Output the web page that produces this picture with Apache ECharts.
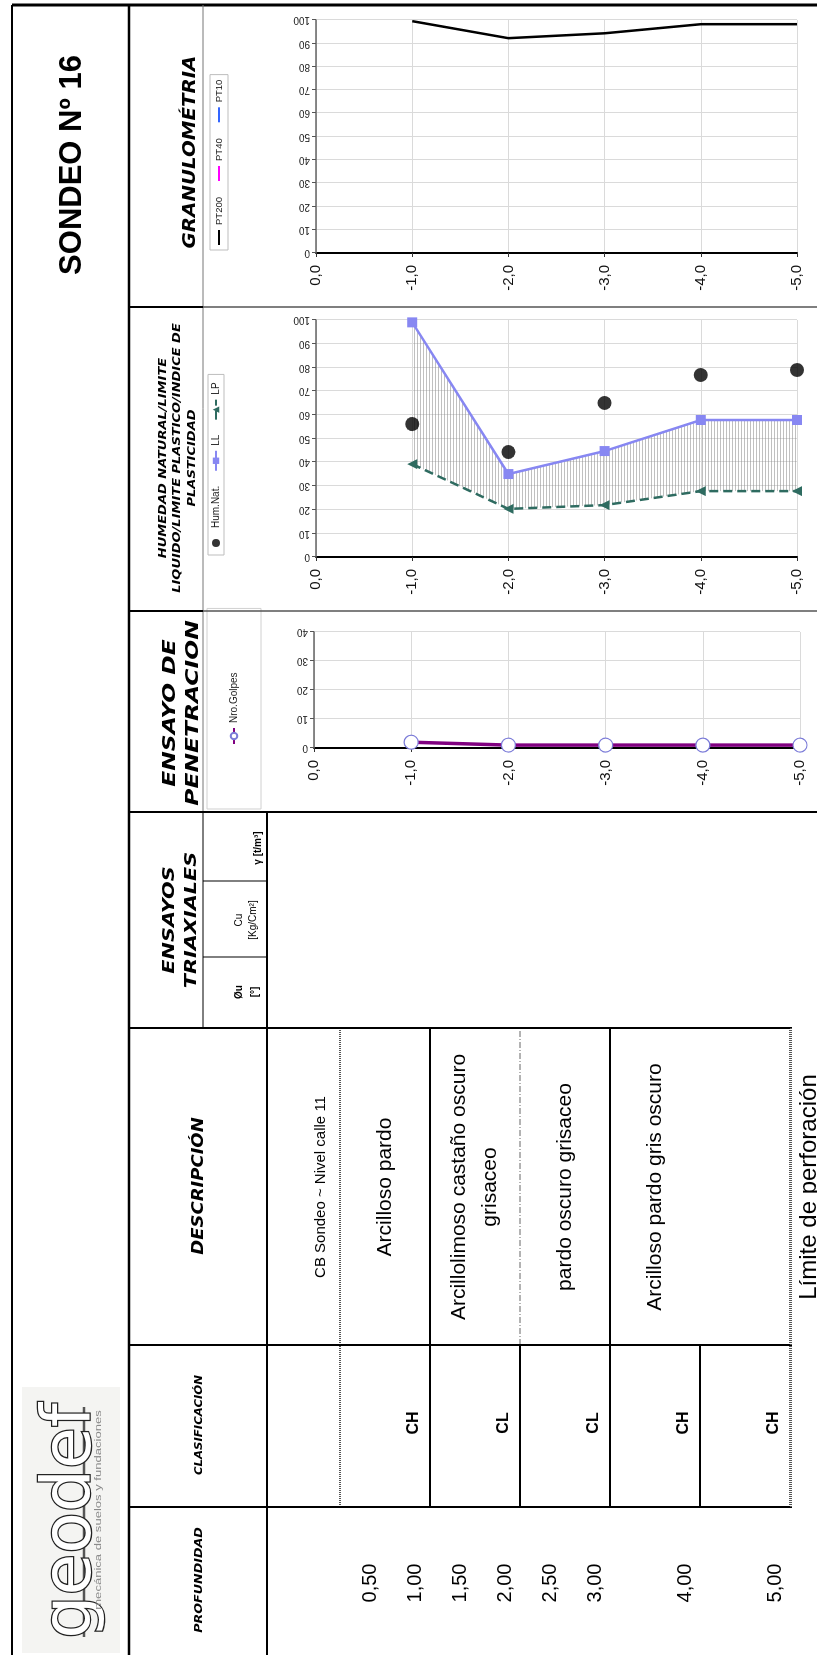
<!DOCTYPE html>
<html lang="es">
<head>
<meta charset="utf-8">
<title>Sondeo Nº 16</title>
<script src="https://cdn.jsdelivr.net/npm/echarts@6/dist/echarts.min.js"></script>
<style>
  html, body { margin: 0; padding: 0; width: 817px; height: 1655px; overflow: hidden; background: #fff; }
  /* La planilla se dibuja apaisada (1655 x 817) y se gira 90° a la izquierda */
  #hoja { position: absolute; left: 0; top: 0; width: 1655px; height: 817px;
          transform-origin: 0 0; transform: translate(0, 1655px) rotate(-90deg); }
</style>
</head>
<body>
<div id="hoja"></div>
<script>
// ---------- Datos del sondeo ----------
// Profundidades de ensayo (m)
const profundidadEnsayos = ['0,0', '-1,0', '-2,0', '-3,0', '-4,0', '-5,0'];
// Granulometría: pasante por tamiz (%)
const pasaT200 = [null, 99.5, 92.2, 94.3, 98.2, 98.2];
const pasaT40 = [];
const pasaT10 = [];
// Humedad natural y límites de Atterberg (%)
const humedadNatural = [null, 56.1, 44.3, 65.0, 76.8, 78.9];
const limiteLiquido = [null, 99.0, 35.0, 44.7, 57.8, 57.8];
const limitePlastico = [null, 39.2, 20.3, 21.9, 27.8, 27.8];
// Ensayo de penetración: número de golpes
const nroGolpes = [null, 2, 1, 1, 1, 1];
// Escalas de los ejes de valores
const escalaPorcentaje = [0, 100, 10];
const escalaGolpes = [0, 40, 10];

// Perfil estratigráfico
const estratoDesde = [-0.8, 0, 1, 2, 3];
const estratoHasta = [0, 1, 2, 3, 4];
const estratoDescripcion = [
  'CB Sondeo ~ Nivel calle 11',
  'Arcilloso pardo',
  'Arcillolimoso castaño oscuro\ngrisaceo',
  'pardo oscuro grisaceo',
  'Arcilloso pardo gris oscuro'
];
const contactoDescripcion = [0, 1, 2, 3, 5];
const tipoContactoDescripcion = ['punteado', 'neto', 'gradual', 'neto', 'punteado'];
const clasificacionHasta = [1, 2, 3, 4, 5];
const clasificacionSUCS = ['CH', 'CL', 'CL', 'CH', 'CH'];
const contactoClasificacion = [0, 1, 2, 3, 4, 5];
const tipoContactoClasificacion = ['punteado', 'neto', 'neto', 'neto', 'neto', 'punteado'];
const profundidadMuestras = [0.5, 1, 1.5, 2, 2.5, 3, 4, 5];
const profundidadFinal = 5;

// ---------- Utilidades ----------
const SANS = '"Liberation Sans", Arial, sans-serif';
const TITULAR = '"DejaVu Sans", Verdana, sans-serif';
const pares = arr => arr.map((v, i) => (v == null ? null : [v, i])).filter(Boolean);
const indicePlasticidad = limiteLiquido.map((v, i) => (v == null ? null : v - limitePlastico[i]));

// trama de líneas finas para el índice de plasticidad
const trama = document.createElement('canvas');
trama.width = 8; trama.height = 3;
const tctx = trama.getContext('2d');
tctx.fillStyle = 'rgba(140,140,140,0.55)';
tctx.fillRect(0, 0, 8, 1);

function linea(x1, y1, x2, y2, color, ancho, dash) {
  return { type: 'line', silent: true, z: 10,
    shape: { x1, y1, x2, y2 },
    style: { stroke: color, lineWidth: ancho, lineDash: dash || null } };
}
function texto(x, y, str, font, extra) {
  extra = extra || {};
  return { type: 'text', silent: true, z: 10, x, y,
    scaleX: extra.scaleX || 1,
    style: { text: str, font, fill: extra.color || '#000',
      textAlign: extra.align || 'center', textVerticalAlign: extra.vAlign || 'middle',
      align: extra.align || 'center', verticalAlign: extra.vAlign || 'middle',
      lineHeight: extra.lineHeight, stroke: extra.stroke, lineWidth: extra.lineWidth } };
}
const estiloContacto = {
  punteado: { stroke: '#555', lineWidth: 2, lineDash: [1, 1] },
  neto: { stroke: '#000', lineWidth: 2, lineDash: null },
  gradual: { stroke: '#666', lineWidth: 1, lineDash: [6, 2, 1, 2] }
};

// ---------- Ejes de los gráficos ----------
function ejeValores(grid, escala) {
  return {
    gridIndex: grid, type: 'value', position: 'top',
    min: escala[0], max: escala[1], interval: escala[2],
    axisLine: { show: true, onZero: false, lineStyle: { color: '#666', width: 1.5 } },
    axisTick: { show: true, length: 4, lineStyle: { color: '#555' } },
    axisLabel: { rotate: -90, fontSize: 10, margin: 6, color: '#222', fontFamily: SANS },
    splitLine: { show: true, lineStyle: { color: '#dadada', width: 1 } }
  };
}
function ejeProfundidad(grid) {
  return {
    gridIndex: grid, type: 'category', data: profundidadEnsayos, inverse: true, boundaryGap: false,
    axisLine: { show: true, lineStyle: { color: '#000', width: 2 } },
    axisTick: { show: true, length: 4, lineStyle: { color: '#333' } },
    axisLabel: { fontSize: 15, margin: 12, color: '#111', fontFamily: SANS, interval: 0 },
    splitLine: { show: true, interval: 0, lineStyle: { color: '#dadada', width: 1 } }
  };
}

// ---------- Marco, encabezados y logo ----------
const graficos = [
  // fondo del logo
  { type: 'rect', silent: true, z: 1, shape: { x: 2, y: 22, width: 266, height: 98 }, style: { fill: '#f4f4f2' } },
  // marco general
  linea(1650, 12, 1650, 817, '#000', 3),
  linea(0, 12, 1650, 12, '#000', 2),
  linea(0, 129, 1650, 129, '#000', 2.5),
  linea(627, 203, 843, 203, '#000', 1),
  linea(843, 203, 1650, 203, '#777', 1),
  linea(0, 267, 843, 267, '#000', 2),
  // divisiones de las secciones
  linea(1348, 129, 1348, 203, '#000', 2), linea(1348, 203, 1348, 817, '#555', 1.5),
  linea(1044, 129, 1044, 203, '#000', 2), linea(1044, 203, 1044, 817, '#555', 1.5),
  linea(843, 129, 843, 817, '#000', 2),
  linea(627, 129, 627, 792, '#000', 2),
  linea(310, 129, 310, 792, '#000', 2),
  linea(148, 129, 148, 792, '#000', 2),
  linea(774, 203, 774, 267, '#000', 1),
  linea(698, 203, 698, 267, '#000', 1),
  linea(148, 791, 627, 791, '#555', 2, [1, 1]),
  // título
  texto(1490, 72, 'SONDEO Nº 16', 'bold 31px ' + SANS),
  // encabezados de columnas
  texto(1503, 190, 'GRANULOMÉTRIA', 'italic bold 18px ' + TITULAR, { scaleX: 1.1 }),
  texto(1197, 163, 'HUMEDAD NATURAL/LIMITE', 'italic bold 10px ' + TITULAR, { scaleX: 1.3 }),
  texto(1197, 177, 'LIQUIDO/LIMITE PLASTICO/INDICE DE', 'italic bold 10px ' + TITULAR, { scaleX: 1.3 }),
  texto(1197, 192, 'PLASTICIDAD', 'italic bold 10px ' + TITULAR, { scaleX: 1.3 }),
  texto(942, 170, 'ENSAYO DE', 'italic bold 18px ' + TITULAR, { scaleX: 1.3 }),
  texto(942, 193, 'PENETRACION', 'italic bold 18px ' + TITULAR, { scaleX: 1.3 }),
  texto(735, 170, 'ENSAYOS', 'italic bold 16px ' + TITULAR, { scaleX: 1.3 }),
  texto(735, 192, 'TRIAXIALES', 'italic bold 16px ' + TITULAR, { scaleX: 1.3 }),
  texto(663, 239, 'Øu', 'bold 10px ' + SANS),
  texto(663, 255, '[°]', 'bold 10px ' + SANS),
  texto(735, 239, 'Cu', '10px ' + SANS),
  texto(735, 253, '[Kg/Cm²]', '10px ' + SANS),
  texto(807, 258, 'γ [t/m³]', 'bold 10px ' + SANS),
  texto(469, 199, 'DESCRIPCIÓN', 'italic bold 15px ' + TITULAR, { scaleX: 1.2 }),
  texto(230, 199, 'CLASIFICACIÓN', 'italic bold 10px ' + TITULAR, { scaleX: 1.17 }),
  texto(75, 199, 'PROFUNDIDAD', 'italic bold 10px ' + TITULAR, { scaleX: 1.27 }),
  // logo
  linea(18, 84, 248, 84, '#555', 2.5),
  texto(134, 72, 'geodef', '68px ' + TITULAR, { color: '#fff', stroke: '#222', lineWidth: 2.5 }),
  texto(145, 99, 'mecánica de suelos y fundaciones', '9px ' + SANS, { color: '#8a8a8a', scaleX: 1.45 })
];

// ---------- Gráfico ----------
const chart = echarts.init(document.getElementById('hoja'), null, { renderer: 'canvas', width: 1655, height: 817 });

const option = {
  animation: false,
  backgroundColor: '#fff',
  textStyle: { fontFamily: SANS },
  grid: [
    { left: 1402, top: 316, width: 233, height: 481, outerBoundsMode: 'none' },
    { left: 1098, top: 316, width: 237, height: 481, outerBoundsMode: 'none' },
    { left: 907, top: 314, width: 116, height: 486, outerBoundsMode: 'none' },
    { left: 0, top: 268, width: 1655, height: 522, outerBoundsMode: 'none' }
  ],
  xAxis: [
    ejeValores(0, escalaPorcentaje),
    ejeValores(1, escalaPorcentaje),
    ejeValores(2, escalaGolpes),
    { gridIndex: 3, type: 'value', min: 0, max: 1655, show: false }
  ],
  yAxis: [
    ejeProfundidad(0),
    ejeProfundidad(1),
    ejeProfundidad(2),
    { gridIndex: 3, type: 'value', inverse: true, min: -0.8, max: 5, show: false }
  ],
  legend: [
    { data: [{ name: 'PT200', icon: 'rect' }, { name: 'PT40', icon: 'rect' }, { name: 'PT10', icon: 'rect' }],
      left: 1405, top: 210, orient: 'horizontal',
      itemWidth: 15, itemHeight: 2, itemGap: 16, padding: [4, 5], selectedMode: false,
      borderColor: '#bdbdbd', borderWidth: 1, textStyle: { fontSize: 9.5, color: '#222', fontFamily: SANS } },
    { data: ['Hum.Nat.', 'LL', 'LP'], left: 1100, top: 208, orient: 'horizontal',
      itemWidth: 20, itemHeight: 8, itemGap: 14, padding: [3, 8], selectedMode: false,
      borderColor: '#bdbdbd', borderWidth: 1, textStyle: { fontSize: 10, color: '#222', fontFamily: SANS } },
    { data: ['Nro.Golpes'], left: 846, top: 207, orient: 'horizontal',
      itemWidth: 16, itemHeight: 8, padding: [22, 64], selectedMode: false,
      borderColor: '#d0d0d0', borderWidth: 1, textStyle: { fontSize: 10, color: '#222', fontFamily: SANS } }
  ],
  graphic: graficos,
  series: [
    // Granulometría
    { name: 'PT200', type: 'line', xAxisIndex: 0, yAxisIndex: 0, data: pares(pasaT200),
      symbol: 'none', color: '#000', lineStyle: { color: '#000', width: 2.5 }, z: 3 },
    { name: 'PT40', type: 'line', xAxisIndex: 0, yAxisIndex: 0, data: pares(pasaT40),
      symbol: 'none', color: '#ff00ff', lineStyle: { color: '#ff00ff', width: 2 } },
    { name: 'PT10', type: 'line', xAxisIndex: 0, yAxisIndex: 0, data: pares(pasaT10),
      symbol: 'none', color: '#3366ff', lineStyle: { color: '#3366ff', width: 2 } },
    // Límites de Atterberg
    { name: 'LP', type: 'line', xAxisIndex: 1, yAxisIndex: 1, data: pares(limitePlastico), stack: 'ip',
      symbol: 'triangle', symbolSize: 10, color: '#2e6b60',
      itemStyle: { color: '#2e6b60' }, lineStyle: { color: '#2e6b60', width: 2.5, type: [9, 5] }, z: 4 },
    { name: 'IP', type: 'line', xAxisIndex: 1, yAxisIndex: 1, data: pares(indicePlasticidad), stack: 'ip',
      symbol: 'none', lineStyle: { width: 0, opacity: 0 },
      areaStyle: { color: { image: trama, repeat: 'repeat' }, opacity: 1 }, z: 2 },
    { name: 'LL', type: 'line', xAxisIndex: 1, yAxisIndex: 1, data: pares(limiteLiquido),
      symbol: 'rect', symbolSize: 10, color: '#8787f2',
      itemStyle: { color: '#8787f2' }, lineStyle: { color: '#8787f2', width: 2.5 }, z: 4 },
    { name: 'Hum.Nat.', type: 'scatter', xAxisIndex: 1, yAxisIndex: 1, data: pares(humedadNatural),
      symbol: 'circle', symbolSize: 14, itemStyle: { color: '#000' }, z: 5 },
    // Ensayo de penetración
    { name: 'Nro.Golpes', type: 'line', xAxisIndex: 2, yAxisIndex: 2, data: pares(nroGolpes),
      symbol: 'circle', symbolSize: 14, color: '#800080',
      itemStyle: { color: '#fff', borderColor: '#7b7bd8', borderWidth: 1.2 },
      lineStyle: { color: '#800080', width: 3.5 }, z: 4 },
    // Perfil: descripción de los estratos
    { type: 'custom', name: 'descripcion', xAxisIndex: 3, yAxisIndex: 3, silent: true, z: 6,
      data: estratoDescripcion.map((t, i) => [0, estratoDesde[i], estratoHasta[i]]),
      encode: { x: 0, y: [1, 2] },
      renderItem: (p, api) => {
        const desde = api.value(1), hasta = api.value(2);
        const y0 = api.coord([0, desde])[1], y1 = api.coord([0, hasta])[1];
        const boca = desde < 0;
        return { type: 'text', x: 468, y: boca ? y1 - 4 : (y0 + y1) / 2,
          style: { text: estratoDescripcion[p.dataIndex], font: (boca ? '15px ' : '21px ') + SANS,
            fill: '#000', align: 'center', verticalAlign: boca ? 'bottom' : 'middle', lineHeight: 31 } };
      } },
    // Perfil: contactos en la columna de descripción
    { type: 'custom', name: 'contactosDescripcion', xAxisIndex: 3, yAxisIndex: 3, silent: true, z: 6,
      data: contactoDescripcion.map(d => [0, d]), encode: { x: 0, y: 1 },
      renderItem: (p, api) => {
        const y = api.coord([0, api.value(1)])[1];
        return { type: 'line', shape: { x1: 310, y1: y, x2: 627, y2: y },
          style: estiloContacto[tipoContactoDescripcion[p.dataIndex]] };
      } },
    // Perfil: contactos en la columna de clasificación
    { type: 'custom', name: 'contactosClasificacion', xAxisIndex: 3, yAxisIndex: 3, silent: true, z: 6,
      data: contactoClasificacion.map(d => [0, d]), encode: { x: 0, y: 1 },
      renderItem: (p, api) => {
        const y = api.coord([0, api.value(1)])[1];
        return { type: 'line', shape: { x1: 148, y1: y, x2: 310, y2: y },
          style: estiloContacto[tipoContactoClasificacion[p.dataIndex]] };
      } },
    // Perfil: clasificación SUCS
    { type: 'custom', name: 'clasificacion', xAxisIndex: 3, yAxisIndex: 3, silent: true, z: 6,
      data: clasificacionHasta.map(d => [0, d]), encode: { x: 0, y: 1 },
      renderItem: (p, api) => {
        const y = api.coord([0, api.value(1)])[1];
        return { type: 'text', x: 232, y: y - 16,
          style: { text: clasificacionSUCS[p.dataIndex], font: 'bold 16px ' + SANS, fill: '#000',
            align: 'center', verticalAlign: 'middle' } };
      } },
    // Perfil: profundidades
    { type: 'custom', name: 'profundidades', xAxisIndex: 3, yAxisIndex: 3, silent: true, z: 6,
      data: profundidadMuestras.map(d => [0, d]), encode: { x: 0, y: 1 },
      renderItem: (p, api) => {
        const d = api.value(1);
        const y = api.coord([0, d])[1];
        return { type: 'text', x: 72, y: y - 15,
          style: { text: d.toFixed(2).replace('.', ','), font: '20px ' + SANS, fill: '#000',
            align: 'center', verticalAlign: 'middle' } };
      } },
    // Perfil: fin del sondeo
    { type: 'custom', name: 'limite', xAxisIndex: 3, yAxisIndex: 3, silent: true, z: 6,
      data: [[0, profundidadFinal]], encode: { x: 0, y: 1 },
      renderItem: (p, api) => {
        const y = api.coord([0, api.value(1)])[1];
        return { type: 'text', x: 468, y: y + 19,
          style: { text: 'Límite de perforación', font: '24px ' + SANS, fill: '#000',
            align: 'center', verticalAlign: 'middle' } };
      } }
  ]
};
chart.setOption(option);
</script>
</body>
</html>
